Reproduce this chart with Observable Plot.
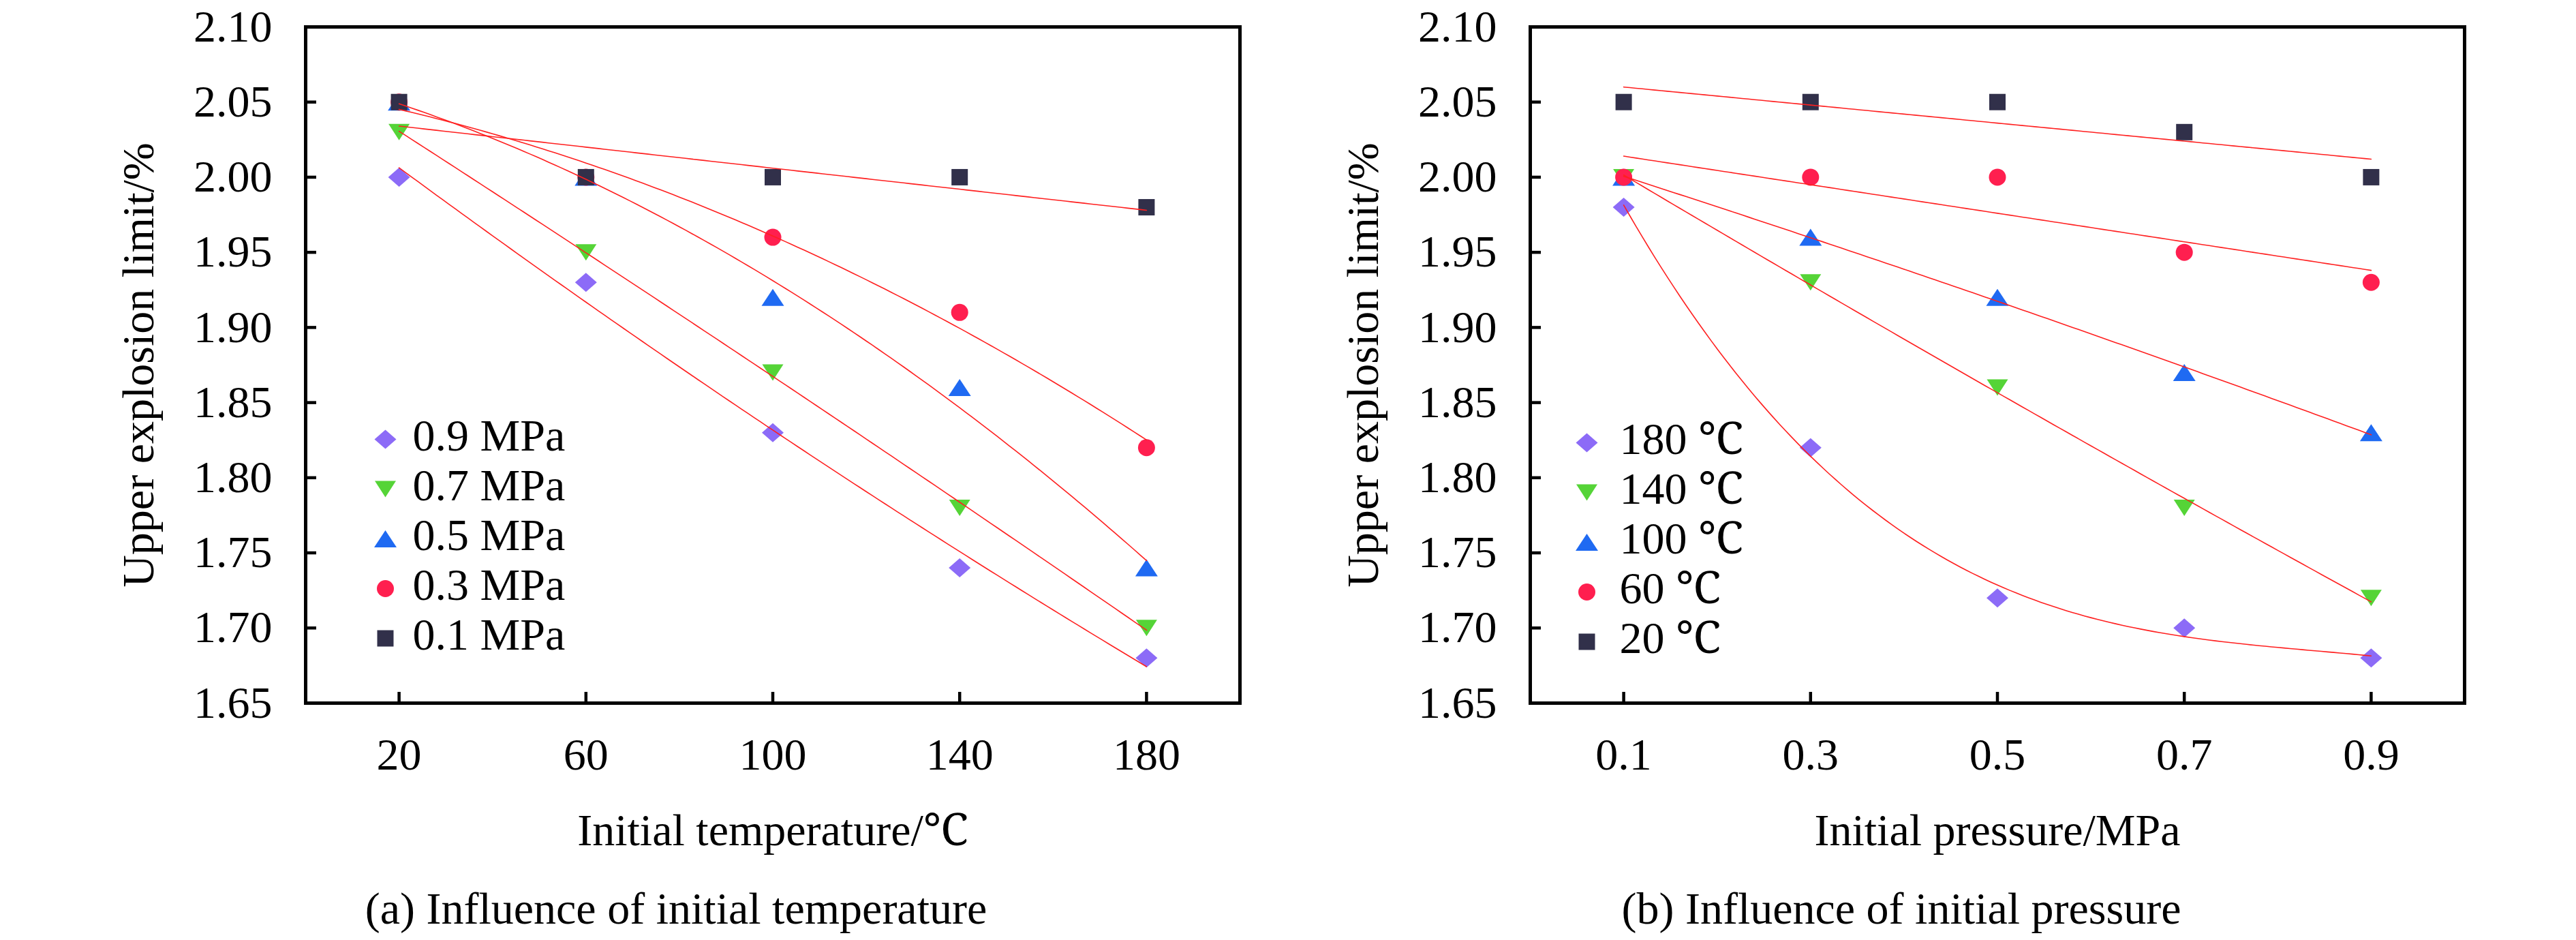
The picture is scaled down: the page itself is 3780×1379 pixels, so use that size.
<!DOCTYPE html>
<html><head><meta charset="utf-8">
<script src="https://cdn.jsdelivr.net/npm/d3@7"></script>
<script src="https://cdn.jsdelivr.net/npm/@observablehq/plot@0.6"></script>
<style>
html,body{margin:0;padding:0;background:#fff;}
#wrap{position:relative;width:3780px;height:1379px;overflow:hidden;}
.panel{position:absolute;top:8px;width:1890px;}
.cap{font-family:"Liberation Serif","Times New Roman",serif;font-size:66px;line-height:66px;text-align:center;margin-top:21px;color:#000;white-space:nowrap;}
</style></head><body>
<div id="wrap">
  <div class="panel" id="pa" style="left:0"></div>
  <div class="panel" id="pb" style="left:1890px"></div>
</div>
<script>
// ---------- data ----------
const temperatures = [20, 60, 100, 140, 180];            // ℃
const pressures = [0.1, 0.3, 0.5, 0.7, 0.9];             // MPa
const yTicks = [1.65, 1.70, 1.75, 1.80, 1.85, 1.90, 1.95, 2.00, 2.05, 2.10];

// (a) series by pressure, x = temperature
const pressureLabels = ["0.9 MPa", "0.7 MPa", "0.5 MPa", "0.3 MPa", "0.1 MPa"];
const uelP09 = [2.00, 1.93, 1.83, 1.74, 1.68];
const uelP07 = [2.03, 1.95, 1.87, 1.78, 1.70];
const uelP05 = [2.05, 2.00, 1.92, 1.86, 1.74];
const uelP03 = [2.05, 2.00, 1.96, 1.91, 1.82];
const uelP01 = [2.05, 2.00, 2.00, 2.00, 1.98];
const fitDegreeA = [2, 2, 2, 2, 1];

// (b) series by temperature, x = pressure
const temperatureLabels = ["180 ℃", "140 ℃", "100 ℃", "60 ℃", "20 ℃"];
const uelT180 = [1.98, 1.82, 1.72, 1.70, 1.68];
const uelT140 = [2.00, 1.93, 1.86, 1.78, 1.72];
const uelT100 = [2.00, 1.96, 1.92, 1.87, 1.83];
const uelT60  = [2.00, 2.00, 2.00, 1.95, 1.93];
const uelT20  = [2.05, 2.05, 2.05, 2.03, 2.00];
const fitDegreeB = [3, 2, 2, 1, 1];

// ---------- styling ----------
const colors = ["#8C6BF7", "#55D437", "#1F6AF2", "#FF1F4F", "#31304A"];
const FONT = '"Liberation Serif","Times New Roman","Noto Serif",serif';
const shape = pts => ({draw(ctx, size) {
  const k = Math.sqrt(size / Math.PI) / 12;
  ctx.moveTo(pts[0][0] * k, pts[0][1] * k);
  for (const p of pts.slice(1)) ctx.lineTo(p[0] * k, p[1] * k);
  ctx.closePath();
}});
const symDiamond = shape([[0, -14], [16, 0], [0, 14], [-16, 0]]);
const symTriDown = shape([[-15.5, -12], [15.5, -12], [0, 12]]);
const symTriUp = shape([[0, -12.5], [16.5, 12.5], [-16.5, 12.5]]);
const symCircle = {draw(ctx, size) { const k = Math.sqrt(size / Math.PI) / 12; const r = 12.5 * k; ctx.moveTo(r, 0); ctx.arc(0, 0, r, 0, 2 * Math.PI); }};
const symSquare = shape([[-12, -12], [12, -12], [12, 12], [-12, 12]]);
const symbols = [symDiamond, symTriDown, symTriUp, symCircle, symSquare];

// least-squares polynomial fit
function polyfit(xs, ys, deg) {
  const n = deg + 1;
  const A = Array.from({length: n}, () => new Array(n + 1).fill(0));
  xs.forEach((x, i) => {
    for (let r = 0; r < n; r++) {
      for (let c = 0; c < n; c++) A[r][c] += Math.pow(x, r + c);
      A[r][n] += ys[i] * Math.pow(x, r);
    }
  });
  for (let c = 0; c < n; c++) {
    let p = c;
    for (let r = c + 1; r < n; r++) if (Math.abs(A[r][c]) > Math.abs(A[p][c])) p = r;
    [A[c], A[p]] = [A[p], A[c]];
    for (let r = 0; r < n; r++) if (r !== c) {
      const f = A[r][c] / A[c][c];
      for (let k = c; k <= n; k++) A[r][k] -= f * A[c][k];
    }
  }
  const coef = A.map((row, i) => row[n] / row[i]);
  return x => coef.reduce((s, a, i) => s + a * Math.pow(x, i), 0);
}

function makePanel({xs, seriesValues, labels, degrees, xDomain, xFormat, xLabel, marginLeft, marginRight, legDx, legTextDx, legDy}) {
  const W = 1890, H = 1271, mt = 31, mb = 248;
  const fw = W - marginLeft - marginRight, fh = H - mt - mb;
  const points = [], fits = [];
  seriesValues.forEach((vals, s) => {
    vals.forEach((v, i) => points.push({s, x: xs[i], y: v}));
    const f = polyfit(xs, vals, degrees[s]);
    const x0 = xs[0], x1 = xs[xs.length - 1];
    for (let j = 0; j <= 120; j++) { const x = x0 + (x1 - x0) * j / 120; fits.push({s, x, y: f(x)}); }
  });
  const marks = [
    Plot.axisX(xs, {tickSize: 0, tickPadding: 51, tickFormat: xFormat, label: null, fontSize: 66}),
    Plot.axisY(yTicks, {tickSize: 0, tickPadding: 49, tickFormat: d3.format(".2f"), label: null, fontSize: 66}),
    Plot.tickX(xs, {x: d => d, insetTop: fh - 16, stroke: "#000", strokeWidth: 4.5}),
    Plot.tickY(yTicks, {y: d => d, insetRight: fw - 16, stroke: "#000", strokeWidth: 4.5}),
    Plot.frame({stroke: "#000", strokeWidth: 5})
  ];
  symbols.forEach((sym, s) => {
    marks.push(Plot.dot(points.filter(d => d.s === s), {x: "x", y: "y", symbol: sym, r: 12, fill: colors[s], stroke: "none"}));
  });
  seriesValues.forEach((_, s) => {
    marks.push(Plot.line(fits.filter(d => d.s === s), {x: "x", y: "y", stroke: "#FF2020", strokeWidth: 1.6}));
  });
  labels.forEach((lab, s) => {
    marks.push(Plot.dot([lab], {frameAnchor: "top-left", dx: legDx, dy: legDy + s * 73, symbol: symbols[s], r: 12, fill: colors[s], stroke: "none"}));
    marks.push(Plot.text([lab], {text: d => d, frameAnchor: "top-left", dx: legTextDx, dy: legDy - 5 + s * 73, textAnchor: "start", lineAnchor: "middle", fontSize: 66, fill: "#000"}));
  });
  marks.push(Plot.text([xLabel], {text: d => d, frameAnchor: "bottom", dy: 187, textAnchor: "middle", lineAnchor: "middle", fontSize: 66, fill: "#000"}));
  marks.push(Plot.text(["Upper explosion limit/%"], {text: d => d, frameAnchor: "left", dx: -245, rotate: -90, textAnchor: "middle", lineAnchor: "middle", fontSize: 66, fill: "#000"}));
  return Plot.plot({
    width: W, height: H, marginTop: mt, marginBottom: mb, marginLeft, marginRight,
    style: {fontFamily: FONT, fontSize: "66px", color: "#000", background: "#fff", overflow: "visible"},
    x: {domain: xDomain},
    y: {domain: [1.65, 2.10]},
    marks
  });
}

function mount(id, svg, caption, pad) {
  const el = document.getElementById(id);
  el.appendChild(svg);
  const c = document.createElement("div");
  c.className = "cap";
  c.style.paddingLeft = pad[0] + "px";
  c.style.paddingRight = pad[1] + "px";
  c.textContent = caption;
  el.appendChild(c);
}

mount("pa", makePanel({
  xs: temperatures,
  seriesValues: [uelP09, uelP07, uelP05, uelP03, uelP01],
  labels: pressureLabels, degrees: fitDegreeA,
  xDomain: [0, 200], xFormat: d3.format("d"),
  xLabel: "Initial temperature/℃",
  marginLeft: 448, marginRight: 71,
  legDx: 117, legTextDx: 157, legDy: 605
}), "(a) Influence of initial temperature", [94, 0]);

mount("pb", makePanel({
  xs: pressures,
  seriesValues: [uelT180, uelT140, uelT100, uelT60, uelT20],
  labels: temperatureLabels, degrees: fitDegreeB,
  xDomain: [0, 1.0], xFormat: d3.format(".1f"),
  xLabel: "Initial pressure/MPa",
  marginLeft: 355, marginRight: 164,
  legDx: 83, legTextDx: 131, legDy: 610
}), "(b) Influence of initial pressure", [0, 90]);
</script>
</body></html>
